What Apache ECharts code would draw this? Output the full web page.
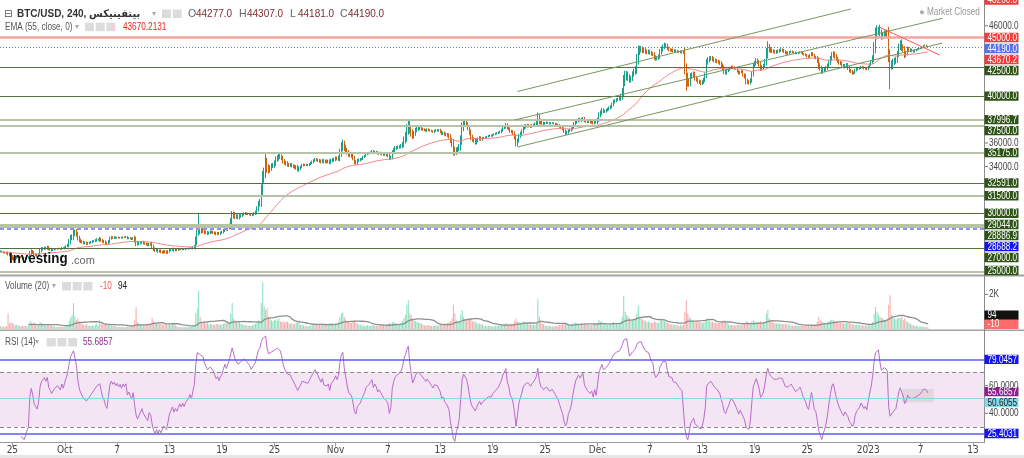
<!DOCTYPE html>
<html><head><meta charset="utf-8">
<script src="https://cdn.jsdelivr.net/npm/echarts@6/dist/echarts.min.js"></script>
<style>html,body{margin:0;padding:0;background:#fff;}#c{width:1024px;height:458px;}</style>
</head><body><div id="c"></div>
<script>
// ---------- DATA ----------
// 4-hour candles, first slot = 2023-09-23 16:00 UTC; open of each candle = previous close
const firstSlotUTC = Date.UTC(2023, 8, 23, 16);
const slotCount = 676;
const closes = [
26750,26700,
26650,26620,26580,26550,26450,26280,
26150,26080,26200,26250,26300,26270,
26250,26200,26150,26180,26220,26250,
26600,26750,26650,26500,26450,26400,
26500,26800,26950,27000,27050,27000,
27100,26950,26900,26850,26900,26950,
26950,27000,26980,26950,27050,27000,
27100,27200,27300,27600,27900,28000,
28300,28450,28200,27900,27700,27600,
27550,27450,27500,27400,27450,27500,
27550,27600,27650,27700,27750,27750,
27800,27700,27600,27550,27450,27400,
27600,27850,27950,27900,27950,27900,
27950,27900,27950,27900,27980,27950,
28000,27850,27900,27850,27800,27900,
27700,27500,27400,27450,27500,27550,
27450,27400,27350,27300,27400,27350,
27150,26950,26850,26900,26750,26800,
26700,26650,26750,26700,26650,26750,
26850,26900,26950,26850,26900,26850,
26900,26950,26900,26950,26900,26950,
26950,27000,27050,27000,27100,27200,
27700,28400,28500,28450,28550,28500,
28400,28350,28300,28350,28400,28400,
28350,28300,28250,28300,28250,28350,
28400,28550,28700,28650,28800,28950,
29300,29800,29900,29700,29750,29650,
29750,29800,29900,29950,30000,29950,
29950,29900,29850,29900,30000,30100,
30400,30800,31000,32000,33000,33500,
34300,33900,33700,33850,34050,34100,
34300,34600,34750,34950,34850,34700,
34450,34300,34250,34150,34100,34150,
34050,34000,33900,33950,33750,33800,
33950,34100,34150,34100,34150,34100,
34200,34300,34400,34500,34600,34550,
34500,34450,34400,34500,34400,34450,
34400,34450,34350,34500,34550,34600,
34700,34650,34750,35200,35700,35900,
35600,35400,35200,35000,34950,34900,
34700,34400,34300,34500,34550,34600,
34650,34800,34900,35050,35100,35150,
35200,35300,35150,35250,35200,35100,
35150,35100,35050,35000,35000,34950,
34900,34700,34800,35200,35400,35550,
35600,35650,35700,35750,35900,36300,
36600,37100,37600,37200,36900,36600,
36800,37100,37200,37300,37250,37200,
37150,37100,37050,37150,37100,37050,
37000,36950,37050,37100,37050,37100,
36950,36800,36850,36750,36700,36650,
36550,36200,35900,35400,35200,35400,
35500,35700,36300,37300,37700,37750,
37550,37300,36900,36500,36300,36200,
36050,36200,36350,36450,36300,36400,
36450,36500,36550,36600,36650,36600,
36700,36750,36800,36850,36900,36950,
37100,37300,37400,37550,37300,37200,
37000,36950,36800,36500,35900,36200,
36600,36800,37000,37300,37400,37450,
37500,37450,37400,37500,37550,37650,
37800,38200,37900,37750,37700,37650,
37700,37750,37700,37650,37700,37700,
37650,37600,37550,37500,37400,37300,
37200,37000,36850,36900,37050,37100,
37200,37400,37600,37800,37900,38000,
37950,38000,38100,37900,37850,37800,
37800,37750,37800,37700,37850,37750,
38000,38400,38600,38800,38700,38700,
38800,38900,39000,39100,39300,39500,
39600,39700,39750,39800,40000,40400,
41300,41700,41800,41600,41400,41500,
41900,42100,42300,43200,43800,44000,
44000,43900,43950,43800,43750,43800,
43700,43600,43550,43300,43200,43250,
43400,43800,44000,44200,44350,44300,
44100,43950,43900,43950,43850,43900,
43850,43800,43750,43800,43700,43750,
42300,41600,41200,41100,41700,41800,
41900,41500,41400,41250,41200,41100,
41200,41400,41800,42900,43100,43200,
43250,43150,43050,43000,42950,42900,
42800,42600,42400,42100,42000,42150,
42250,42400,42500,42450,42350,42400,
42100,41950,42050,42100,41800,41650,
41300,41200,41150,41350,41900,42600,
42800,43050,42900,42700,42350,42450,
42600,43000,43700,44200,44000,43900,
43850,43800,43750,43800,43850,43900,
43950,43900,43800,43700,43650,43700,
43750,43800,43750,43700,43650,43650,
43700,43750,43700,43600,43550,43500,
43400,43350,43500,43650,43500,43300,
43250,43000,42600,42400,42100,42200,
42300,42400,42600,42900,43200,43500,
43600,43400,43200,43000,42850,42800,
42600,42500,42600,42650,42400,42200,
42100,41950,42000,42200,42300,42350,
42400,42500,42450,42350,42400,42300,
42500,42700,42900,43300,44200,45300,
45600,45800,45400,45100,45200,45350,
45400,45300,43500,42700,42600,42900,
43000,43100,43600,44200,44500,44200,
44000,43500,43650,44050,43900,43950,
43850,43800,43900,43950,44000,44050,
44100,44200,44300,44350,44277,44190
];
// wick length beyond the body, per candle (price units)
const wickSize = [
80,70,
70,60,80,150,120,140,
150,120,90,100,90,80,
80,90,100,80,70,90,
200,180,120,140,110,100,
100,180,150,130,110,100,
120,110,90,100,80,70,
60,50,60,60,70,50,
70,80,90,200,250,200,
300,250,200,220,180,150,
120,110,100,110,90,80,
90,100,80,110,120,90,
180,130,110,120,140,120,
110,150,100,90,90,80,
60,50,50,60,50,50,
60,70,60,80,90,70,
200,300,150,120,110,100,
110,90,100,110,100,120,
220,170,150,120,140,110,
120,100,100,110,130,100,
110,90,100,120,90,80,
50,50,40,50,40,50,
40,50,50,60,80,90,
300,400,300,250,200,180,
180,130,150,110,130,120,
110,100,130,120,110,110,
110,130,150,140,160,170,
300,400,250,200,180,160,
180,130,110,110,100,90,
90,80,80,100,110,130,
200,250,220,450,600,400,
500,450,300,250,220,200,
220,250,200,260,200,180,
200,170,180,190,160,140,
140,130,150,160,180,200,
100,110,90,80,70,70,
80,90,100,110,120,110,
130,140,150,120,140,130,
140,130,150,160,150,140,
150,140,180,300,380,400,
300,250,200,180,170,160,
180,200,160,140,130,120,
90,100,80,90,100,90,
80,90,100,90,80,90,
100,110,120,110,100,100,
120,160,140,180,170,160,
140,130,120,160,200,260,
350,500,400,400,350,260,
220,200,180,170,160,140,
110,100,90,100,90,90,
80,80,90,90,80,90,
120,130,120,140,130,150,
170,200,260,450,300,220,
180,200,350,450,300,220,
200,220,240,260,200,180,
200,160,130,140,120,110,
80,70,70,80,70,70,
70,70,80,80,90,90,
110,130,120,160,130,120,
130,120,140,200,250,180,
180,160,170,200,180,160,
130,120,110,110,100,100,
130,400,300,180,130,120,
90,80,70,80,70,70,
70,80,80,90,100,110,
120,140,160,130,120,110,
120,130,160,170,160,130,
130,140,120,130,120,110,
100,100,100,110,110,100,
150,220,180,200,150,130,
110,110,120,130,150,180,
130,120,110,130,200,300,
500,450,350,300,260,240,
220,240,260,400,500,300,
280,240,220,200,180,180,
170,150,140,200,180,150,
150,220,240,210,200,180,
170,130,120,110,110,100,
100,90,80,90,90,100,
450,500,400,300,260,220,
200,180,170,180,170,170,
150,170,200,260,220,200,
180,170,170,160,150,140,
150,180,200,220,180,170,
110,100,100,100,90,90,
100,110,100,100,130,140,
250,180,170,150,200,220,
200,180,170,180,200,170,
150,180,400,480,260,200,
180,150,140,140,130,130,
130,120,130,130,120,120,
100,90,80,80,90,80,
80,70,80,90,90,100,
90,90,100,110,100,110,
120,180,300,220,200,180,
170,150,180,200,220,240,
220,200,180,170,170,160,
150,140,140,150,170,180,
130,120,110,110,100,100,
100,90,90,80,90,90,
90,100,110,180,400,550,
450,400,300,280,260,240,
220,260,600,500,350,300,
260,240,260,280,260,350,
220,260,200,180,150,130,
110,90,80,70,70,70,
60,60,50,50,45,40
];
const wickHigh = [[51,28600],[136,30050],[182,35150],[280,37950],[439,44300],[603,45920],[637,44307]];
const wickLow = [[312,34900],[354,35700],[471,40450],[512,41000],[611,40600],[637,44181]];
const volumes = [
180,150,
140,130,170,900,320,380,
350,260,200,240,220,180,
160,170,200,180,150,170,
450,380,260,300,250,200,
220,400,350,300,250,200,
260,240,180,200,170,150,
120,110,130,120,140,110,
150,160,200,450,650,800,
1500,700,500,600,450,350,
300,250,220,260,200,180,
200,220,180,250,300,200,
500,300,250,280,350,300,
250,300,220,180,200,160,
120,110,100,120,110,100,
120,140,130,160,180,150,
500,1250,400,300,250,220,
250,200,220,260,240,300,
650,450,380,300,350,280,
300,260,250,280,320,250,
280,220,240,300,200,180,
120,110,100,120,100,110,
100,120,110,130,180,200,
900,1200,2200,700,450,400,
420,300,350,260,300,280,
250,220,300,280,260,250,
260,300,350,320,380,400,
900,1500,600,500,400,380,
450,300,260,250,230,200,
200,180,190,220,260,300,
400,500,450,1500,2700,1300,
1100,1200,700,600,500,450,
500,550,480,600,450,400,
450,380,400,420,350,300,
300,280,320,350,400,500,
220,250,200,180,160,150,
180,200,220,250,260,240,
280,300,320,260,300,280,
300,280,320,350,330,300,
320,300,400,700,900,950,
700,550,450,400,380,350,
400,450,350,300,280,260,
200,220,180,200,210,190,
180,200,220,190,180,200,
220,240,260,250,230,220,
260,350,300,400,380,350,
320,300,280,350,450,600,
800,1400,1650,900,800,600,
500,450,400,380,350,300,
250,220,200,230,210,200,
180,170,190,200,180,210,
260,300,280,320,300,350,
380,450,600,1400,900,500,
400,450,800,1100,700,500,
450,500,550,600,450,400,
450,350,300,320,280,260,
180,170,160,180,170,160,
150,160,170,180,190,200,
250,300,280,350,300,280,
300,280,320,450,600,400,
400,350,380,450,400,350,
300,280,260,250,240,230,
300,1750,700,400,300,280,
200,180,160,170,160,150,
160,170,180,200,220,250,
280,320,350,300,280,260,
280,300,350,380,350,300,
300,320,280,300,280,260,
240,220,230,250,260,240,
350,500,400,450,350,300,
250,260,280,300,350,400,
300,280,260,300,450,700,
1900,1000,800,700,600,550,
500,550,600,900,1350,700,
650,550,500,450,400,420,
380,350,330,450,400,350,
350,500,550,480,450,400,
380,300,280,260,250,240,
220,200,190,210,200,230,
1000,1650,900,700,600,500,
450,400,380,420,400,380,
350,380,450,600,500,450,
420,400,380,360,340,330,
350,400,450,500,420,380,
250,240,230,220,210,200,
220,240,230,220,300,320,
450,400,380,350,450,500,
450,400,380,400,450,380,
350,400,900,1100,600,450,
400,350,330,320,310,300,
300,280,290,300,280,270,
220,200,190,180,200,190,
180,170,190,200,210,220,
200,210,220,240,230,250,
280,400,700,500,450,400,
380,350,400,450,500,550,
500,450,420,400,380,360,
350,330,320,340,380,400,
300,280,260,250,240,230,
220,210,200,190,200,210,
200,220,250,400,900,1270,
1000,800,700,650,600,550,
500,600,1400,1940,800,700,
600,550,600,650,600,800,
500,600,450,400,350,300,
250,200,180,170,160,150,
140,130,120,110,104,94
];
const emaPeriod = 55, emaSeed = 26700, rsiPeriod = 14, volMaPeriod = 20;
const xTickLabels = [
['09-25','25'],['10-01','Oct'],['10-07','7'],['10-13','13'],['10-19','19'],['10-25','25'],
['11-01','Nov'],['11-07','7'],['11-13','13'],['11-19','19'],['11-25','25'],
['12-01','Dec'],['12-07','7'],['12-13','13'],['12-19','19'],['12-25','25'],
['01-01','2023'],['01-07','7'],['01-13','13']
];
const priceLevels = [
[48200,'48200.0',null,'red'],
[45000,'45000.0','pink','red'],
[44190,'44190.0','dotblue','blue'],
[43670.2,'43670.2',null,'red'],
[42500,'42500.0','dark','green'],
[40000,'40000.0','dark','green'],
[37996.7,'37996.7','light','green'],
[37500,'37500.0','light','green'],
[35175,'35175.0','light','green'],
[32591,'32591.0','dark','green'],
[31500,'31500.0','light','green'],
[30000,'30000.0','dark','green'],
[29044,'29044.0','light','green'],
[28886.9,'28886.9','light','green'],
[28688.2,'28688.2','dashblue','bblue'],
[27000,'27000.0','dark','green'],
[25000,'25000.0','light','green']
];
const pricePlainTicks = [46000, 36000, 34000];
const trendLines = [
[354.6,40393,584,47432,'green'],
[353.2,37961,646.5,46638,'green'],
[355.3,35657,647.2,44531,'green'],
[603.9,45870,645.1,43507,'red']
];
const volLabels = [[94,'94','black'],[-10,'-10','salmon']];
const volPlainTicks = [[2000,'2K']];
const rsiLevels = [[79.0457,'79.0457','bblue'],[55.6857,'55.6857','purple'],[50.6055,'50.6055','cyan'],[25.4031,'25.4031','bblue']];
const rsiPlainTicks = [[60,'60.0000'],[40,'40.0000']];
const rsiBox = [619,57.6,641,48];

// ---------- BUILD ----------
const pad = n => (n < 10 ? '0' : '') + n;
const cats = [];
for (let i = 0; i < slotCount; i++) {
  const d = new Date(firstSlotUTC + i * 4 * 3600 * 1000);
  cats.push(pad(d.getUTCMonth() + 1) + '-' + pad(d.getUTCDate()) + ' ' + pad(d.getUTCHours()));
}
const tickMap = {};
xTickLabels.forEach(t => { tickMap[t[0] + ' 00'] = t[1]; });
const hiMap = {}, loMap = {};
wickHigh.forEach(w => hiMap[w[0]] = w[1]);
wickLow.forEach(w => loMap[w[0]] = w[1]);

const candles = [], volData = [];
closes.forEach((c, i) => {
  const o = i === 0 ? c : closes[i - 1];
  const w = wickSize[i] || 0;
  let h = Math.max(o, c) + w, l = Math.min(o, c) - w;
  if (hiMap[i] != null) h = hiMap[i];
  if (loMap[i] != null) l = loMap[i];
  candles.push([o, c, l, h]);
  volData.push({ value: volumes[i], itemStyle: { color: c >= o ? '#86dfbb' : '#f6a8a8' } });
});
const ema = []; let e = emaSeed; const a = 2 / (emaPeriod + 1);
closes.forEach(c => { e = a * c + (1 - a) * e; ema.push(+e.toFixed(1)); });
const rsi = closes.map(() => null);
let ag = 0, al = 0;
for (let i = 1; i <= rsiPeriod; i++) { const d = closes[i] - closes[i - 1]; if (d > 0) ag += d; else al -= d; }
ag /= rsiPeriod; al /= rsiPeriod;
rsi[rsiPeriod] = al === 0 ? 100 : 100 - 100 / (1 + ag / al);
for (let i = rsiPeriod + 1; i < closes.length; i++) {
  const d = closes[i] - closes[i - 1];
  ag = (ag * (rsiPeriod - 1) + Math.max(d, 0)) / rsiPeriod;
  al = (al * (rsiPeriod - 1) + Math.max(-d, 0)) / rsiPeriod;
  rsi[i] = +(al === 0 ? 100 : 100 - 100 / (1 + ag / al)).toFixed(2);
}
const volMa = volumes.map((v, i) => {
  if (i < volMaPeriod - 1) return null;
  let s = 0; for (let k = i - volMaPeriod + 1; k <= i; k++) s += volumes[k];
  return +(s / volMaPeriod).toFixed(1);
});

const NARROW = "'Liberation Sans Narrow','Arial Narrow','DejaVu Sans Condensed',sans-serif";
const SANS = "'Liberation Sans',Arial,'DejaVu Sans',sans-serif";
const lineStyles = {
  pink: { color: '#f5a3a3', width: 2.5, type: 'solid' },
  dotblue: { color: '#6577ee', width: 1, type: [1, 2] },
  dark: { color: '#557040', width: 1.2, type: 'solid' },
  light: { color: '#b6c3a8', width: 2, type: 'solid' },
  dashblue: { color: '#8f8ff5', width: 2, type: [4, 3] }
};
const boxColors = {
  red: ['#f23b3b', '#fff'], blue: ['#5670ee', '#fff'], green: ['#2f5418', '#fff'],
  bblue: ['#1414f0', '#fff'], black: ['#111', '#fff'], salmon: ['#ff6b6b', '#fff'],
  purple: ['#8e1f8e', '#fff'], cyan: ['#86d6e8', '#222']
};
const trendColors = { green: '#75985f', red: '#ee5a5a' };

const tickInterval = (idx, val) => tickMap[val] !== undefined;
const xAxes = [0, 1, 2].map(k => ({
  type: 'category', gridIndex: k, data: cats, boundaryGap: true,
  axisLine: { show: k === 2, lineStyle: { color: '#9a9a9a' } },
  axisTick: { show: k === 2, interval: tickInterval, alignWithLabel: true, length: 4, lineStyle: { color: '#9a9a9a' } },
  axisLabel: { show: k === 2, interval: tickInterval, formatter: v => tickMap[v] || '', color: '#444', fontSize: 10, fontFamily: NARROW, margin: 3 },
  splitLine: { show: false }
}));

const levelLines = priceLevels.filter(l => l[2]).map(l => ({ yAxis: l[0], lineStyle: lineStyles[l[2]] }));
const trendMark = trendLines.map(t => [
  { coord: [t[0], t[1]], lineStyle: { color: trendColors[t[4]], width: 1, type: 'solid' } },
  { coord: [t[2], t[3]] }
]);

const option = {
  animation: false,
  backgroundColor: '#ffffff',
  grid: [
    { left: 0, right: 40, top: 0, height: 275 },
    { left: 0, right: 40, top: 276, height: 53 },
    { left: 0, right: 40, top: 331, height: 111.5 }
  ],
  xAxis: xAxes,
  yAxis: [
    { type: 'value', gridIndex: 0, min: 24736, max: 48200, show: false },
    { type: 'value', gridIndex: 1, min: 0, max: 3055, show: false },
    { type: 'value', gridIndex: 2, min: 18.84, max: 99.64, show: false }
  ],
  series: [
    {
      type: 'candlestick', xAxisIndex: 0, yAxisIndex: 0, data: candles, large: false, z: 3,
      barWidth: 1.2,
      itemStyle: { color: '#1a9f8b', color0: '#cc6410', borderColor: '#1a9f8b', borderColor0: '#cc6410', borderWidth: 1 },
      markLine: { silent: true, symbol: ['none', 'none'], label: { show: false }, animation: false,
        emphasis: { disabled: true }, data: levelLines.concat(trendMark) }
    },
    { type: 'line', xAxisIndex: 0, yAxisIndex: 0, data: ema, symbol: 'none', z: 4,
      lineStyle: { color: '#f48686', width: 1 }, silent: true },
    { type: 'bar', xAxisIndex: 1, yAxisIndex: 1, data: volData, barWidth: 1, silent: true },
    { type: 'line', xAxisIndex: 1, yAxisIndex: 1, data: volMa, symbol: 'none',
      lineStyle: { color: '#8e8e8e', width: 1.3 }, silent: true },
    {
      type: 'line', xAxisIndex: 2, yAxisIndex: 2, data: rsi, symbol: 'none', z: 4,
      lineStyle: { color: '#b86bc9', width: 1 }, silent: true,
      markArea: { silent: true, data: [
        [{ yAxis: 30, itemStyle: { color: '#f3e5f4' } }, { yAxis: 70 }],
        [{ coord: [rsiBox[0], rsiBox[1]], itemStyle: { color: 'rgba(205,205,205,0.55)' } }, { coord: [rsiBox[2], rsiBox[3]] }]
      ] },
      markLine: { silent: true, symbol: ['none', 'none'], label: { show: false }, data: [
        { yAxis: 70, lineStyle: { color: '#8a8a8a', type: [4, 3], width: 1 } },
        { yAxis: 30, lineStyle: { color: '#8a8a8a', type: [4, 3], width: 1 } },
        { yAxis: 50.6055, lineStyle: { color: '#8fd3ea', type: 'solid', width: 1 } },
        { yAxis: 79.0457, lineStyle: { color: '#5c5cf6', type: 'solid', width: 1.5 } },
        { yAxis: 25.4031, lineStyle: { color: '#5c5cf6', type: 'solid', width: 1.5 } }
      ] }
    }
  ]
};

const chart = echarts.init(document.getElementById('c'), null, { renderer: 'canvas' });
chart.setOption(option);

// ---------- right-axis labels & headers ----------
const els = [];
function txt(x, y, text, font, fill, sx) {
  els.push({ type: 'text', z: 102, x, y, scaleX: sx || 1,
    style: { x: 0, y: 0, text, font, fill, align: 'left', verticalAlign: 'middle' } });
}
function ntxt(x, y, text, fill, size, bold) {
  txt(x, y, text, (bold ? 'bold ' : '') + (size || 10) + 'px ' + SANS, fill, 0.82);
}
function rect(x, y, w, h, fill, z) {
  els.push({ type: 'rect', z: z || 99, shape: { x, y, width: w, height: h }, style: { fill } });
}
function hline(x1, x2, y, stroke, w) {
  els.push({ type: 'line', z: 98, shape: { x1, y1: y, x2, y2: y }, style: { stroke, lineWidth: w } });
}
function layout(items, bottom, spacing) {
  items.sort((p, q) => p.y - q.y);
  for (let i = 1; i < items.length; i++) items[i].y = Math.max(items[i].y, items[i - 1].y + spacing);
  if (items.length && items[items.length - 1].y > bottom) {
    items[items.length - 1].y = bottom;
    for (let i = items.length - 2; i >= 0; i--) items[i].y = Math.min(items[i].y, items[i + 1].y - spacing);
  }
  return items;
}
function boxes(items) {
  items.forEach(it => {
    const c = boxColors[it.kind];
    rect(984.5, it.y - 4.7, 34, 9.4, c[0], 101);
    ntxt(987.5, it.y + 0.4, it.text, c[1]);
  });
}
function plain(axisIdx, list) {
  list.forEach(p => {
    const y = chart.convertToPixel({ yAxisIndex: axisIdx }, p[0]);
    hline(984, 988, y, '#777', 1);
    ntxt(989, y + 0.4, p[1], '#444');
  });
}
plain(0, pricePlainTicks.map(v => [v, v.toFixed(1)]));
plain(1, volPlainTicks);
plain(2, rsiPlainTicks);
boxes(layout(priceLevels.map(l => ({ y: chart.convertToPixel({ yAxisIndex: 0 }, l[0]), text: l[1], kind: l[3] })), 270.5, 11));
boxes(layout(volLabels.map(l => ({ y: chart.convertToPixel({ yAxisIndex: 1 }, l[0]), text: l[1], kind: l[2] })), 324.3, 9));
boxes(layout(rsiLevels.map(l => ({ y: chart.convertToPixel({ yAxisIndex: 2 }, l[0]), text: l[1], kind: l[2] })), 438, 11));

hline(0, 1024, 275.5, '#a3a3a3', 2);
hline(0, 1024, 330.3, '#a3a3a3', 1.5);
els.push({ type: 'line', z: 98, shape: { x1: 984.5, y1: 0, x2: 984.5, y2: 443 }, style: { stroke: '#8c8c8c', lineWidth: 1 } });
rect(0, 455, 1024, 3, '#e6e6e6', 97);

function icons(x0, y0, n) {
  for (let i = 0; i < n; i++) rect(x0 + i * 10.7, y0, 9, 8.5, '#dcdcdc', 100);
}
txt(4, 14, '⊟', '10px ' + SANS, '#555');
txt(17, 14, 'BTC/USD, 240, بيتفينيكس', 'bold 10.5px ' + SANS, '#333', 0.95);
txt(152, 14, '▾', '8px ' + SANS, '#aaa');
icons(162, 9.5, 2);
[['O', '44277.0', 188], ['H', '44307.0', 239], ['L', '44181.0', 290], ['C', '44190.0', 340]].forEach(q => {
  txt(q[2], 14, q[0], '10.5px ' + SANS, '#666');
  txt(q[2] + 8, 14, q[1], '10.5px ' + SANS, '#7e2b2b', 0.95);
});
ntxt(5, 27, 'EMA (55, close, 0)', '#555');
txt(75, 27, '▾', '8px ' + SANS, '#aaa');
icons(85, 22.7, 3);
ntxt(123, 27, '43670.2131', '#f01f1f');
ntxt(5, 286, 'Volume (20)', '#555');
txt(52, 286, '▾', '8px ' + SANS, '#aaa');
icons(62, 282, 3);
ntxt(100, 286, '-10', '#f05a5a');
ntxt(118, 286, '94', '#222');
ntxt(5, 342, 'RSI (14)', '#555');
txt(35, 342, '▾', '8px ' + SANS, '#aaa');
icons(46.7, 338, 3);
ntxt(83, 342, '55.6857', '#8e2b8e');
els.push({ type: 'circle', z: 100, shape: { cx: 922, cy: 12.3, r: 2 }, style: { fill: '#aaa' } });
ntxt(927, 12.5, 'Market Closed', '#999');
txt(9, 259, 'Investing', 'bold 14.5px ' + SANS, '#111', 0.92);
txt(71, 261, '.com', '11px ' + SANS, '#666');

chart.setOption({ graphic: { elements: els } });
</script>
</body></html>
